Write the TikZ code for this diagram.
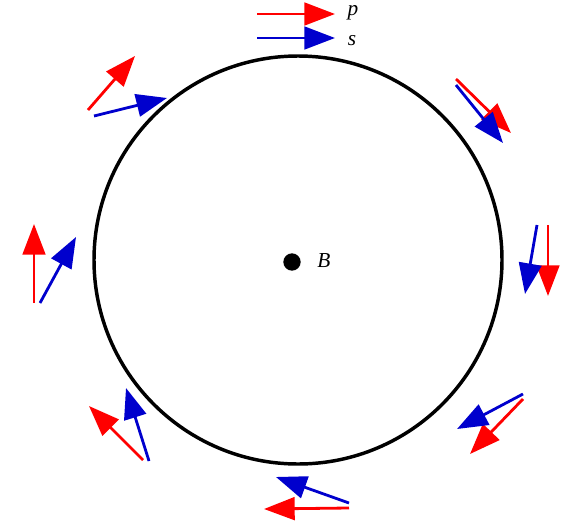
\documentclass[tikz,border=0pt]{standalone}
\usepackage{fontspec}
\setmainfont{Liberation Serif}
\usetikzlibrary{arrows.meta}
\definecolor{pred}{RGB}{255,0,0}
\definecolor{sblue}{RGB}{0,0,205}
\begin{document}
\begin{tikzpicture}[x=0.75pt,y=-0.75pt,
  pol/.style={line width=2.1pt,-{Triangle[length=23pt,width=17pt]}},
  parr/.style={pol,draw=pred,fill=pred},
  sarr/.style={pol,draw=sblue,fill=sblue},
  lbl/.style={font=\fontsize{16}{18}\selectfont\itshape,inner sep=0pt}]
\useasboundingbox (0,0) rectangle (571,521);
\node[draw,circle,line width=2.6pt,minimum size=306pt,inner sep=0pt] (ring) at (298,260) {};
\node[circle,fill=black,minimum size=13pt,inner sep=0pt] (dot) at (292,262) {};
\node[lbl] (B) at (324,261) {B};
% legend
\coordinate (lp0) at (257,14); \coordinate (lp1) at (335,14);
\coordinate (ls0) at (257,38); \coordinate (ls1) at (335,38);
\draw[parr] (lp0) -- (lp1);
\draw[sarr] (ls0) -- (ls1);
\node[lbl] (p) at (353,13) {p};
\node[lbl] (s) at (352,41) {s};
% top-left
\coordinate (a1) at (88,110); \coordinate (a2) at (135,56);
\coordinate (b1) at (94,116); \coordinate (b2) at (167,98);
\draw[parr] (a1) -- (a2); \draw[sarr] (b1) -- (b2);
% top-right
\coordinate (c1) at (456,79); \coordinate (c2) at (511,133);
\coordinate (d1) at (456,85); \coordinate (d2) at (503,143);
\draw[parr] (c1) -- (c2); \draw[sarr] (d1) -- (d2);
% right
\coordinate (e1) at (548,225); \coordinate (e2) at (548,296);
\coordinate (f1) at (537,225); \coordinate (f2) at (525,294);
\draw[parr] (e1) -- (e2); \draw[sarr] (f1) -- (f2);
% left
\coordinate (g1) at (34,303); \coordinate (g2) at (34,224);
\coordinate (h1) at (40,303); \coordinate (h2) at (76,237);
\draw[parr] (g1) -- (g2); \draw[sarr] (h1) -- (h2);
% bottom-right
\coordinate (i1) at (523,399); \coordinate (i2) at (470,454);
\coordinate (j1) at (523,394); \coordinate (j2) at (457,429);
\draw[parr] (i1) -- (i2); \draw[sarr] (j1) -- (j2);
% bottom-left
\coordinate (k1) at (143,460); \coordinate (k2) at (89,406);
\coordinate (l1) at (149,461); \coordinate (l2) at (126,388);
\draw[parr] (k1) -- (k2); \draw[sarr] (l1) -- (l2);
% bottom
\coordinate (m1) at (349,508); \coordinate (m2) at (264,509);
\coordinate (n1) at (349,503); \coordinate (n2) at (276,477);
\draw[parr] (m1) -- (m2); \draw[sarr] (n1) -- (n2);
\end{tikzpicture}
\end{document}
